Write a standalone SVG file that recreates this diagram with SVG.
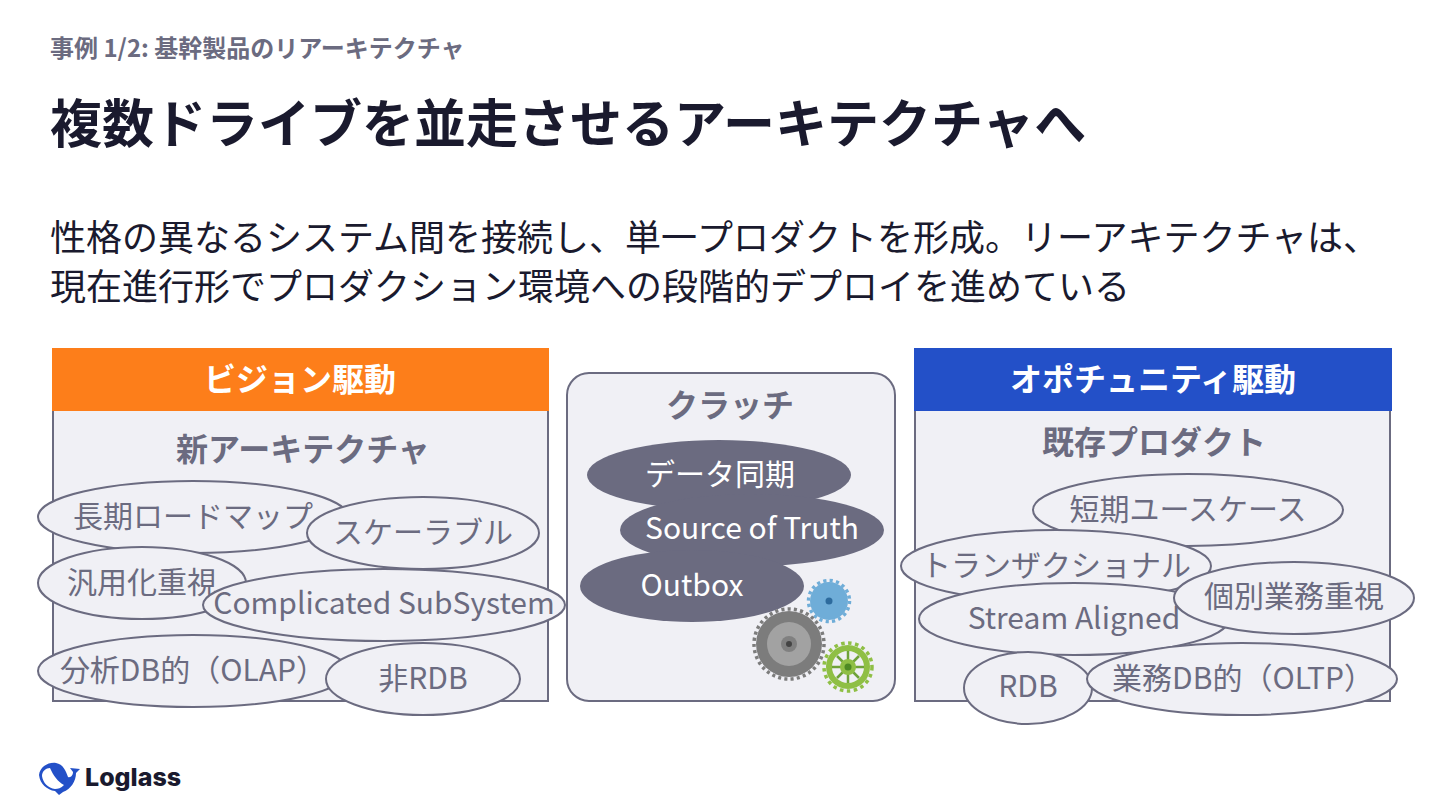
<svg xmlns="http://www.w3.org/2000/svg" width="1440" height="810" viewBox="0 0 1440 810">
<style>
text{font-family:"Noto Sans CJK JP","Noto Sans",sans-serif}
.pn{fill:#f0f0f5;stroke:#6b6b80;stroke-width:2}
.el{fill:#f0f0f5;stroke:#6b6b80;stroke-width:2}
.elt{font-size:30px;fill:#6b6b80;text-anchor:middle}
.dk{fill:#6b6b80}
.dkt{font-size:30px;fill:#fff;text-anchor:middle}
.hd{font-size:32px;font-weight:700;fill:#fff;text-anchor:middle}
.sub{font-size:32px;font-weight:700;fill:#6b6b80;text-anchor:middle}
.body{font-size:36px;fill:#1a1a2e}
</style>
<rect width="1440" height="810" fill="#fff"/>
<text x="50" y="57" font-size="24" font-weight="700" fill="#6b6b80">事例 1/2: 基幹製品のリアーキテクチャ</text>
<text x="50" y="143" font-size="52" font-weight="700" fill="#1a1a2e">複数ドライブを並走させるアーキテクチャへ</text>
<text class="body" x="50" y="251">性格の異なるシステム間を接続し、単一プロダクトを形成。リーアキテクチャは、</text>
<text class="body" x="50" y="300">現在進行形でプロダクション環境への段階的デプロイを進めている</text>

<g id="vision">
<rect class="pn" x="53" y="349" width="495" height="352"/>
<rect x="52" y="348" width="497" height="63" fill="#fd7e1a"/>
<text class="hd" x="300" y="391">ビジョン駆動</text>
<text class="sub" x="303" y="461">新アーキテクチャ</text>
</g>
<g id="v-roadmap"><ellipse class="el" cx="193" cy="517" rx="155" ry="36"/><text class="elt" x="193" y="527">長期ロードマップ</text></g>
<g id="v-scalable"><ellipse class="el" cx="423" cy="533" rx="116" ry="36"/><text class="elt" x="423" y="543">スケーラブル</text></g>
<g id="v-general"><ellipse class="el" cx="142" cy="583" rx="104" ry="36"/><text class="elt" x="142" y="593">汎用化重視</text></g>
<g id="v-complicated"><ellipse class="el" cx="384" cy="605" rx="181" ry="36"/><text class="elt" x="384" y="614">Complicated SubSystem</text></g>
<g id="v-olap"><ellipse class="el" cx="193" cy="671" rx="155" ry="36"/><text class="elt" x="193" y="681">分析DB的（OLAP）</text></g>
<g id="v-nonrdb"><ellipse class="el" cx="423" cy="679" rx="97" ry="36"/><text class="elt" x="423" y="689">非RDB</text></g>

<g id="clutch">
<rect class="pn" x="567" y="373" width="328" height="328" rx="22"/>
<text class="sub" x="730" y="417">クラッチ</text>
</g>
<g id="c-sync"><ellipse class="dk" cx="719" cy="475" rx="132" ry="35"/><text class="dkt" x="720" y="485">データ同期</text></g>
<g id="c-sot"><ellipse class="dk" cx="752" cy="530" rx="132" ry="36"/><text class="dkt" x="752" y="539">Source of Truth</text></g>
<g id="c-outbox"><ellipse class="dk" cx="692" cy="586" rx="112" ry="36"/><text class="dkt" x="692" y="596">Outbox</text></g>
<g id="gears">
<circle cx="829" cy="601" r="19" fill="#6fadd8"/><circle cx="829" cy="601" r="20.500" fill="none" stroke="#6fadd8" stroke-width="3.500" stroke-dasharray="3.200 3.240"/><circle cx="829" cy="601" r="3.500" fill="#2d6b9e"/>
<circle cx="789" cy="644" r="33" fill="#7c7c7c"/><circle cx="789" cy="644" r="35" fill="none" stroke="#7c7c7c" stroke-width="3.500" stroke-dasharray="3.100 3.180"/><circle cx="789" cy="644" r="22" fill="#a2a2a2"/><circle cx="789" cy="644" r="8" fill="#808080"/><circle cx="789" cy="644" r="3" fill="#444"/>
<circle cx="848" cy="667" r="22" fill="#8fbf45"/><circle cx="848" cy="667" r="24" fill="none" stroke="#8fbf45" stroke-width="3.500" stroke-dasharray="3.500 3.530"/><circle cx="848" cy="667" r="16" fill="#f0f0f5"/>
<path d="M832 667H864M848 651V683M837 656L859 678M859 656L837 678" stroke="#6fa23a" stroke-width="2.500" fill="none"/>
<circle cx="848" cy="667" r="8" fill="#8fbf45"/><circle cx="848" cy="667" r="3.500" fill="#4d8a24"/>
</g>

<g id="opportunity">
<rect class="pn" x="915" y="349" width="475" height="352"/>
<rect x="914" y="348" width="478" height="63" fill="#2350c8"/>
<text class="hd" x="1153" y="391">オポチュニティ駆動</text>
<text class="sub" x="1154" y="454">既存プロダクト</text>
</g>
<g id="o-short"><ellipse class="el" cx="1188" cy="510" rx="155" ry="36"/><text class="elt" x="1188" y="520">短期ユースケース</text></g>
<g id="o-trans"><ellipse class="el" cx="1056" cy="566" rx="155" ry="36"/><text class="elt" x="1056" y="576">トランザクショナル</text></g>
<g id="o-stream"><ellipse class="el" cx="1074" cy="619" rx="155" ry="36"/><text class="elt" x="1074" y="629">Stream Aligned</text></g>
<g id="o-individual"><ellipse class="el" cx="1294" cy="598" rx="120" ry="36"/><text class="elt" x="1294" y="607">個別業務重視</text></g>
<g id="o-rdb"><ellipse class="el" cx="1028" cy="688" rx="64" ry="36"/><text class="elt" x="1028" y="697">RDB</text></g>
<g id="o-oltp"><ellipse class="el" cx="1242" cy="679" rx="155" ry="36"/><text class="elt" x="1243" y="689">業務DB的（OLTP）</text></g>

<g id="logo">
<path d="M39 775C40 767 48 762 56 763C63 764 66 771 68 777C71 778 73 775 73 772L70 768L80 769L76 773C76 781 71 789 63 792L59 795L55 791C47 790 40 784 39 775Z" fill="#2350c8"/>
<path d="M42 776C42 771 46 768 50 768C53 775 58 782 64 785C61 788 58 789 55 789C48 788 43 783 42 776Z" fill="#fff"/>
<text x="85" y="786" font-size="25" font-weight="800" fill="#1a1a2e" style="font-family:Inter,sans-serif">Loglass</text>
</g>
</svg>
